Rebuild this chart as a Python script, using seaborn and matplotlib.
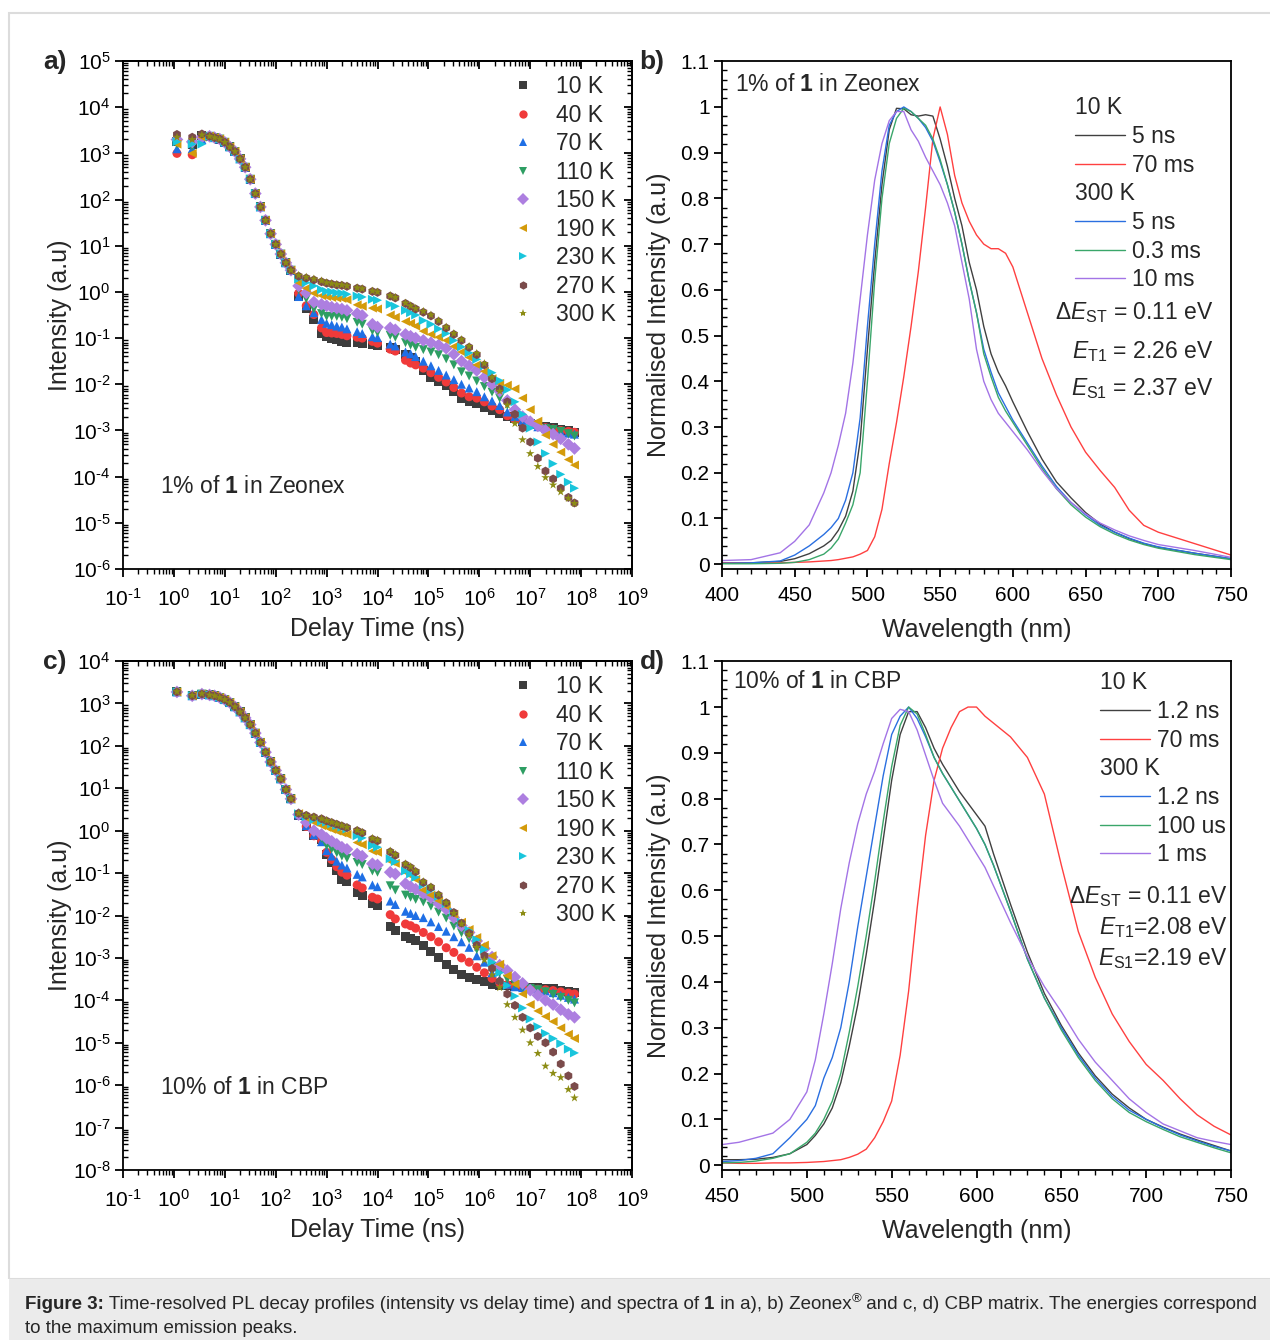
import numpy as np
import pandas as pd
import matplotlib
matplotlib.use("Agg")
import matplotlib.pyplot as plt
from matplotlib import font_manager
from matplotlib.lines import Line2D
from matplotlib.patches import Rectangle
from matplotlib.ticker import LogLocator, NullFormatter, MultipleLocator, FuncFormatter
import seaborn as sns

# ---- decay data (log10 of delay time in ns, log10 of intensity) ----
temps = ["10 K", "40 K", "70 K", "110 K", "150 K", "190 K", "230 K", "270 K", "300 K"]
temp_colors = ["#3d3d3d", "#f03a3a", "#1f6fe5", "#2e9e63", "#ad7fe0", "#d49b0b", "#19c5dc", "#7b4b4b", "#8c8c14"]
temp_markers = ["s", "o", "^", "v", "D", "<", ">", "h", "*"]

log_t_head = [0.06, 0.36, 0.55]
log_t_mid = [0.7, 0.8, 0.9, 1.0, 1.1, 1.2, 1.3, 1.4, 1.5, 1.6, 1.7, 1.8, 1.9, 2.0, 2.1, 2.2, 2.3]
log_t_tail = [2.45, 2.6, 2.75, 2.9, 3.0, 3.1, 3.2, 3.3, 3.4, 3.6, 3.7, 3.9, 4.0, 4.25, 4.35,
              4.55, 4.65, 4.75, 4.9, 5.05, 5.2, 5.35, 5.5, 5.65, 5.8, 5.95, 6.1, 6.25, 6.4,
              6.55, 6.7, 6.85, 7.0, 7.15, 7.3, 7.45, 7.6, 7.75, 7.87]

# panel a: 1% in Zeonex
a_mid = [3.37, 3.34, 3.31, 3.24, 3.14, 3.04, 2.88, 2.7, 2.44, 2.13, 1.84, 1.55, 1.26, 1.03, 0.82, 0.63, 0.47]
a_10K = [3.25, 3.2, 3.38] + a_mid + [
    -0.1, -0.35, -0.6, -0.9, -0.96, -1.0, -1.04, -1.07, -1.09, -1.1, -1.12, -1.13, -1.15, -1.2, -1.25,
    -1.35, -1.42, -1.5, -1.7, -1.85, -1.95, -2.02, -2.15, -2.31, -2.37, -2.42, -2.5, -2.56, -2.63,
    -2.7, -2.75, -2.8, -2.85, -2.88, -2.91, -2.94, -2.98, -3.01, -3.04]
a_40K = [3.0, 2.97, 3.35] + a_mid + [
    -0.03, -0.3, -0.49, -0.78, -0.88, -0.89, -0.9, -0.92, -0.95, -0.98, -1.0, -1.07, -1.11, -1.24, -1.28,
    -1.48, -1.54, -1.58, -1.65, -1.75, -1.85, -1.95, -2.07, -2.19, -2.27, -2.3, -2.38, -2.47, -2.55,
    -2.68, -2.76, -2.82, -2.86, -2.9, -2.94, -2.97, -3.0, -3.02, -3.04]
a_70K = [3.1, 3.1, 3.3] + a_mid + [
    -0.1, -0.3, -0.45, -0.6, -0.68, -0.71, -0.74, -0.76, -0.8, -0.86, -0.9, -0.97, -0.99, -1.13, -1.17,
    -1.3, -1.34, -1.4, -1.5, -1.6, -1.7, -1.8, -1.9, -2.0, -2.08, -2.16, -2.27, -2.36, -2.46,
    -2.6, -2.7, -2.78, -2.85, -2.92, -2.96, -3.0, -3.03, -3.06, -3.08]
a_110K = [3.2, 3.15, 3.35] + a_mid + [
    0.05, -0.15, -0.37, -0.47, -0.53, -0.53, -0.53, -0.55, -0.58, -0.66, -0.7, -0.84, -0.88, -0.94, -0.98,
    -1.1, -1.15, -1.2, -1.25, -1.3, -1.36, -1.45, -1.58, -1.73, -1.82, -1.93, -2.05, -2.17, -2.3,
    -2.45, -2.62, -2.75, -2.85, -2.92, -2.96, -2.98, -3.02, -3.07, -3.12]
a_150K = [3.3, 3.25, 3.35] + a_mid + [
    0.13, -0.02, -0.22, -0.27, -0.3, -0.33, -0.35, -0.37, -0.4, -0.47, -0.51, -0.7, -0.76, -0.78, -0.82,
    -0.92, -0.96, -1.0, -1.05, -1.1, -1.15, -1.22, -1.35, -1.5, -1.6, -1.7, -1.85, -2.0, -2.15,
    -2.35, -2.55, -2.7, -2.81, -2.9, -3.0, -3.08, -3.18, -3.3, -3.39]
a_190K = [3.2, 3.0, 3.35] + a_mid + [
    0.2, 0.08, -0.03, -0.08, -0.1, -0.12, -0.13, -0.14, -0.17, -0.28, -0.31, -0.35, -0.37, -0.5, -0.55,
    -0.64, -0.68, -0.74, -0.85, -0.92, -0.98, -1.05, -1.18, -1.3, -1.42, -1.58, -1.72, -1.88, -1.98,
    -2.02, -2.1, -2.3, -2.55, -2.8, -3.1, -3.3, -3.47, -3.63, -3.75]
a_230K = [3.25, 3.2, 3.2] + a_mid + [
    0.28, 0.2, 0.13, 0.05, 0.01, 0.0, -0.02, -0.03, -0.05, -0.09, -0.11, -0.16, -0.18, -0.27, -0.31,
    -0.4, -0.45, -0.5, -0.62, -0.7, -0.8, -0.9, -1.05, -1.19, -1.32, -1.46, -1.6, -1.75, -1.92,
    -2.12, -2.38, -2.65, -2.95, -3.25, -3.5, -3.72, -3.95, -4.12, -4.25]
a_270K = [3.41, 3.35, 3.42] + a_mid + [
    0.34, 0.3, 0.26, 0.22, 0.19, 0.17, 0.15, 0.14, 0.12, 0.08, 0.06, 0.01, -0.01, -0.09, -0.13,
    -0.25, -0.31, -0.37, -0.44, -0.52, -0.64, -0.78, -0.92, -1.05, -1.2, -1.36, -1.58, -1.88, -2.1,
    -2.38, -2.65, -2.95, -3.25, -3.6, -3.88, -4.05, -4.25, -4.45, -4.57]
a_300K = [3.35, 3.3, 3.4] + a_mid + [
    0.36, 0.32, 0.28, 0.24, 0.2, 0.18, 0.16, 0.15, 0.13, 0.09, 0.07, 0.02, 0.0, -0.08, -0.12,
    -0.24, -0.3, -0.36, -0.42, -0.5, -0.62, -0.76, -0.9, -1.03, -1.18, -1.33, -1.55, -1.85, -2.15,
    -2.45, -2.85, -3.2, -3.5, -3.78, -4.02, -4.18, -4.33, -4.47, -4.58]

# panel c: 10% in CBP
c_mid = [3.2, 3.18, 3.14, 3.09, 3.02, 2.92, 2.8, 2.66, 2.5, 2.3, 2.08, 1.85, 1.62, 1.42, 1.22, 0.97, 0.75]
c_10K = [3.27, 3.18, 3.22] + c_mid + [
    0.36, 0.1, -0.12, -0.2, -0.56, -0.75, -0.95, -1.15, -1.2, -1.45, -1.52, -1.72, -1.76, -2.25, -2.35,
    -2.5, -2.54, -2.6, -2.7, -2.85, -3.0, -3.15, -3.28, -3.38, -3.45, -3.5, -3.56, -3.62, -3.65,
    -3.66, -3.67, -3.68, -3.69, -3.7, -3.71, -3.73, -3.76, -3.79, -3.81]
c_40K = [3.27, 3.18, 3.22] + c_mid + [
    0.37, 0.1, -0.12, -0.22, -0.51, -0.68, -0.85, -0.98, -1.05, -1.28, -1.35, -1.57, -1.61, -1.98, -2.08,
    -2.2, -2.24, -2.3, -2.4, -2.5, -2.62, -2.76, -2.87, -3.0, -3.1, -3.22, -3.35, -3.48, -3.58,
    -3.63, -3.66, -3.69, -3.72, -3.74, -3.75, -3.77, -3.8, -3.83, -3.85]
c_70K = [3.27, 3.18, 3.22] + c_mid + [
    0.37, 0.12, -0.1, -0.26, -0.47, -0.6, -0.72, -0.81, -0.88, -1.03, -1.09, -1.28, -1.32, -1.66, -1.74,
    -1.9, -1.95, -2.0, -2.05, -2.15, -2.26, -2.37, -2.5, -2.62, -2.75, -2.95, -3.1, -3.35, -3.5,
    -3.62, -3.68, -3.7, -3.72, -3.75, -3.78, -3.82, -3.88, -3.93, -3.97]
c_110K = [3.27, 3.18, 3.22] + c_mid + [
    0.38, 0.15, -0.05, -0.18, -0.35, -0.43, -0.52, -0.6, -0.65, -0.75, -0.8, -0.95, -0.98, -1.3, -1.4,
    -1.52, -1.57, -1.62, -1.68, -1.78, -1.92, -2.06, -2.25, -2.41, -2.55, -2.8, -3.0, -3.2, -3.35,
    -3.5, -3.62, -3.68, -3.72, -3.75, -3.8, -3.86, -3.93, -4.0, -4.06]
c_150K = [3.27, 3.18, 3.22] + c_mid + [
    0.38, 0.2, 0.0, -0.09, -0.18, -0.25, -0.32, -0.39, -0.44, -0.55, -0.6, -0.78, -0.81, -0.98, -1.02,
    -1.25, -1.32, -1.38, -1.48, -1.58, -1.72, -1.85, -2.05, -2.24, -2.4, -2.6, -2.78, -2.98, -3.17,
    -3.3, -3.45, -3.6, -3.76, -3.88, -4.0, -4.1, -4.22, -4.33, -4.4]
c_190K = [3.27, 3.18, 3.22] + c_mid + [
    0.4, 0.3, 0.2, 0.12, 0.08, 0.03, -0.01, -0.05, -0.09, -0.28, -0.33, -0.48, -0.51, -0.72, -0.77,
    -0.98, -1.06, -1.15, -1.4, -1.52, -1.65, -1.78, -1.97, -2.16, -2.33, -2.52, -2.7, -2.95, -3.15,
    -3.42, -3.62, -3.85, -4.1, -4.25, -4.38, -4.5, -4.65, -4.8, -4.9]
c_230K = [3.27, 3.18, 3.22] + c_mid + [
    0.4, 0.33, 0.26, 0.22, 0.2, 0.16, 0.12, 0.08, 0.04, -0.12, -0.17, -0.35, -0.39, -0.66, -0.73,
    -0.95, -1.02, -1.1, -1.28, -1.4, -1.55, -1.72, -1.92, -2.16, -2.35, -2.57, -2.8, -3.1, -3.35,
    -3.65, -3.9, -4.18, -4.44, -4.62, -4.78, -4.9, -5.02, -5.15, -5.24]
c_270K = [3.27, 3.18, 3.22] + c_mid + [
    0.41, 0.36, 0.32, 0.28, 0.23, 0.19, 0.15, 0.11, 0.07, 0.0, -0.05, -0.2, -0.24, -0.5, -0.58,
    -0.8, -0.87, -0.97, -1.22, -1.34, -1.52, -1.7, -1.93, -2.18, -2.42, -2.7, -2.95, -3.25, -3.55,
    -3.85, -4.12, -4.4, -4.65, -4.85, -5.0, -5.22, -5.5, -5.78, -6.03]
c_300K = [3.28, 3.19, 3.23] + c_mid + [
    0.41, 0.36, 0.32, 0.28, 0.24, 0.2, 0.16, 0.12, 0.08, 0.01, -0.04, -0.18, -0.22, -0.48, -0.56,
    -0.78, -0.85, -0.95, -1.2, -1.32, -1.5, -1.7, -1.95, -2.2, -2.45, -2.75, -3.05, -3.4, -3.7,
    -4.1, -4.4, -4.7, -5.0, -5.25, -5.55, -5.72, -5.82, -6.1, -6.3]

# ---- spectra ----
spec_colors = ["#404040", "#ff4040", "#2a6fe0", "#3aa66a", "#a374e6"]

wl_b = [400, 420, 440, 450, 460, 470, 475, 480, 485, 490, 495, 500, 505, 510, 515, 520, 525, 530,
        535, 540, 545, 550, 555, 560, 565, 570, 575, 580, 585, 590, 595, 600, 610, 620, 630, 640,
        650, 660, 670, 680, 690, 700, 725, 750]
b_10K_5ns = [0.003, 0.003, 0.006, 0.012, 0.023, 0.04, 0.052, 0.074, 0.105, 0.16, 0.27, 0.47, 0.66, 0.83,
             0.95, 0.997, 0.996, 0.983, 0.98, 0.983, 0.98, 0.93, 0.87, 0.8, 0.74, 0.66, 0.6, 0.52, 0.46,
             0.42, 0.39, 0.355, 0.29, 0.23, 0.18, 0.145, 0.113, 0.088, 0.07, 0.056, 0.045, 0.037, 0.024, 0.012]
b_10K_70ms = [0.003, 0.003, 0.003, 0.004, 0.005, 0.007, 0.008, 0.01, 0.013, 0.016, 0.022, 0.03, 0.06, 0.12,
              0.22, 0.31, 0.41, 0.52, 0.64, 0.78, 0.93, 1.0, 0.94, 0.85, 0.79, 0.75, 0.72, 0.7, 0.69,
              0.69, 0.68, 0.65, 0.55, 0.45, 0.37, 0.3, 0.245, 0.205, 0.168, 0.118, 0.085, 0.07, 0.045, 0.02]
b_300K_5ns = [0.002, 0.003, 0.007, 0.02, 0.04, 0.065, 0.08, 0.1, 0.14, 0.2, 0.32, 0.52, 0.7, 0.86, 0.96,
              0.99, 1.0, 0.99, 0.975, 0.955, 0.925, 0.88, 0.83, 0.77, 0.7, 0.62, 0.55, 0.47, 0.42, 0.375,
              0.345, 0.315, 0.265, 0.215, 0.17, 0.135, 0.108, 0.085, 0.07, 0.057, 0.046, 0.038, 0.024, 0.012]
b_300K_03ms = [0.001, 0.001, 0.002, 0.004, 0.01, 0.022, 0.035, 0.055, 0.09, 0.13, 0.2, 0.4, 0.62, 0.8, 0.92,
               0.975, 0.997, 0.99, 0.975, 0.96, 0.93, 0.885, 0.83, 0.77, 0.7, 0.62, 0.55, 0.46, 0.41, 0.365,
               0.335, 0.31, 0.26, 0.21, 0.165, 0.13, 0.103, 0.082, 0.066, 0.053, 0.043, 0.035, 0.021, 0.01]
b_300K_10ms = [0.008, 0.01, 0.025, 0.05, 0.086, 0.156, 0.2, 0.26, 0.33, 0.44, 0.58, 0.72, 0.84, 0.92, 0.97,
               0.99, 0.99, 0.95, 0.925, 0.89, 0.86, 0.83, 0.79, 0.74, 0.66, 0.58, 0.47, 0.4, 0.36, 0.33,
               0.31, 0.29, 0.25, 0.205, 0.165, 0.135, 0.11, 0.09, 0.075, 0.062, 0.052, 0.043, 0.03, 0.015]
b_labels = ["5 ns", "70 ms", "5 ns", "0.3 ms", "10 ms"]

wl_d = [450, 460, 470, 480, 490, 500, 505, 510, 515, 520, 525, 530, 535, 540, 545, 550, 555, 560, 565,
        570, 575, 580, 585, 590, 595, 600, 605, 610, 620, 630, 640, 650, 660, 670, 680, 690, 700, 710,
        720, 730, 740, 750]
d_10K_12ns = [0.012, 0.012, 0.013, 0.017, 0.025, 0.045, 0.065, 0.09, 0.125, 0.18, 0.26, 0.35, 0.46, 0.58,
              0.71, 0.84, 0.94, 0.99, 0.99, 0.955, 0.91, 0.875, 0.845, 0.815, 0.79, 0.765, 0.74, 0.68,
              0.57, 0.465, 0.375, 0.305, 0.245, 0.195, 0.155, 0.125, 0.1, 0.083, 0.068, 0.055, 0.043, 0.031]
d_10K_70ms = [0.005, 0.004, 0.004, 0.005, 0.005, 0.006, 0.007, 0.008, 0.01, 0.012, 0.017, 0.024, 0.035, 0.06,
              0.095, 0.14, 0.24, 0.38, 0.56, 0.72, 0.84, 0.91, 0.955, 0.99, 1.0, 1.0, 0.98, 0.965,
              0.935, 0.89, 0.81, 0.655, 0.51, 0.41, 0.33, 0.27, 0.22, 0.185, 0.145, 0.11, 0.085, 0.066]
d_300K_12ns = [0.008, 0.01, 0.015, 0.025, 0.06, 0.1, 0.13, 0.19, 0.235, 0.3, 0.4, 0.52, 0.63, 0.74, 0.85,
               0.94, 0.98, 1.0, 0.975, 0.935, 0.89, 0.855, 0.825, 0.795, 0.765, 0.735, 0.7, 0.655,
               0.555, 0.45, 0.365, 0.3, 0.24, 0.19, 0.15, 0.12, 0.1, 0.082, 0.066, 0.053, 0.041, 0.031]
d_300K_100us = [0.005, 0.006, 0.009, 0.015, 0.025, 0.05, 0.07, 0.1, 0.14, 0.2, 0.29, 0.39, 0.5, 0.62, 0.75,
                0.87, 0.96, 1.0, 0.985, 0.94, 0.89, 0.855, 0.825, 0.795, 0.765, 0.735, 0.7, 0.655,
                0.555, 0.45, 0.365, 0.295, 0.235, 0.185, 0.145, 0.115, 0.095, 0.078, 0.062, 0.05, 0.038, 0.027]
d_300K_1ms = [0.045, 0.05, 0.06, 0.07, 0.1, 0.16, 0.23, 0.33, 0.44, 0.56, 0.66, 0.745, 0.81, 0.86, 0.92,
              0.975, 0.995, 0.99, 0.95, 0.895, 0.84, 0.79, 0.765, 0.74, 0.71, 0.68, 0.65, 0.61,
              0.53, 0.455, 0.39, 0.335, 0.275, 0.225, 0.185, 0.145, 0.115, 0.09, 0.075, 0.06, 0.052, 0.045]
d_labels = ["1.2 ns", "70 ms", "1.2 ns", "100 us", "1 ms"]

W, H = 1270, 1340
FS_TICK = 15
FS_LABEL = 18
FS_TEXT = 16.5


def decay_frame(series):
    log_t = np.array(log_t_head + log_t_mid + log_t_tail)
    parts = []
    for label, log_i in zip(temps, series):
        assert len(log_i) == len(log_t), label
        parts.append(pd.DataFrame({"t": 10.0 ** log_t, "I": 10.0 ** np.array(log_i), "T": label}))
    return pd.concat(parts, ignore_index=True)


def spectra_frame(wl, curves):
    parts = []
    for i, vals in enumerate(curves):
        assert len(vals) == len(wl), i
        parts.append(pd.DataFrame({"wl": wl, "I": vals, "curve": f"c{i}"}))
    return pd.concat(parts, ignore_index=True)


def add_axes_px(fig, left, top, right, bottom):
    return fig.add_axes([left / W, 1 - bottom / H, (right - left) / W, (bottom - top) / H])


def pow10_label(v, pos):
    # short hyphen in the exponent, like the original Origin labels
    e = int(round(np.log10(v)))
    return r"$\mathdefault{10^{\text{%d}}}$" % e


def draw_decay(ax, series, ylo, yhi, note, legend_y):
    df = decay_frame(series)
    sns.scatterplot(data=df, x="t", y="I", hue="T", style="T", hue_order=temps, style_order=temps,
                    palette=temp_colors, markers=temp_markers, s=42, linewidth=0, legend=False, ax=ax)
    ax.set_xscale("log")
    ax.set_yscale("log")
    ax.set_xlim(1e-1, 1e9)
    ax.set_ylim(10.0 ** ylo, 10.0 ** yhi)
    for axis in (ax.xaxis, ax.yaxis):
        axis.set_major_locator(LogLocator(base=10, numticks=30))
        axis.set_minor_locator(LogLocator(base=10, subs=np.arange(2, 10), numticks=30))
        axis.set_major_formatter(FuncFormatter(pow10_label))
        axis.set_minor_formatter(NullFormatter())
    ax.tick_params(which="major", length=6, width=1.3, labelsize=FS_TICK)
    ax.tick_params(which="minor", length=3.5, width=1.0)
    ax.tick_params(axis="x", which="both", direction="out", pad=7.5)
    ax.tick_params(axis="y", which="major", direction="out", pad=3)
    ax.tick_params(axis="y", which="minor", direction="in")
    # mirrored ticks on top and right, pointing inwards
    sx = ax.secondary_xaxis("top")
    sy = ax.secondary_yaxis("right")
    for sec, axis in ((sx, sx.xaxis), (sy, sy.yaxis)):
        axis.set_major_locator(LogLocator(base=10, numticks=30))
        axis.set_minor_locator(LogLocator(base=10, subs=np.arange(2, 10), numticks=30))
        sec.tick_params(which="major", direction="in", length=6, width=1.3, labeltop=False, labelright=False)
        sec.tick_params(which="minor", direction="in", length=3.5, width=1.0)
        for sp in sec.spines.values():
            sp.set_linewidth(1.3)
    ax.set_xlabel("Delay Time (ns)", fontsize=FS_LABEL)
    ax.set_ylabel("Intensity (a.u)", fontsize=FS_LABEL)
    ax.xaxis.set_label_coords(0.5, -0.094)
    ax.yaxis.set_label_coords(-0.1, 0.5)

    handles = [Line2D([], [], linestyle="", marker=m, color=c, markersize=6, markeredgewidth=0)
               for m, c in zip(temp_markers, temp_colors)]
    ax.legend(handles, temps, loc="upper left", bbox_to_anchor=(0.768, legend_y), frameon=False,
              fontsize=FS_TEXT, handlelength=0.8, handletextpad=1.05, labelspacing=0.24,
              borderpad=0, borderaxespad=0)
    ax.text(0.073, 0.163, note, transform=ax.transAxes, fontsize=FS_TEXT, va="center", ha="left")


def draw_spectra(ax, wl, curves, labels, xlo, note, note_xy, leg_x, leg_y1, leg_y2, energies, e_x, e_ys):
    df = spectra_frame(wl, curves)
    sns.lineplot(data=df, x="wl", y="I", hue="curve", palette=spec_colors, linewidth=1.0,
                 estimator=None, sort=False, legend=False, ax=ax)
    ax.set_xlim(xlo, 750)
    ax.set_ylim(-0.0105, 1.1005)
    ax.xaxis.set_major_locator(MultipleLocator(50))
    ax.xaxis.set_minor_locator(MultipleLocator(10))
    ax.yaxis.set_major_locator(MultipleLocator(0.1))
    ax.yaxis.set_minor_locator(MultipleLocator(0.02))
    ax.yaxis.set_major_formatter(FuncFormatter(lambda v, p: f"{round(v, 1):g}"))
    ax.tick_params(which="major", length=6, width=1.3, labelsize=FS_TICK, top=False, right=False)
    ax.tick_params(which="minor", length=3.5, width=1.0, top=False, right=False)
    ax.tick_params(axis="x", which="both", direction="out", pad=6)
    ax.tick_params(axis="y", which="major", direction="out", pad=3)
    ax.tick_params(axis="y", which="minor", direction="in")
    ax.set_xlabel("Wavelength (nm)", fontsize=FS_LABEL)
    ax.set_ylabel("Normalised Intensity (a.u)", fontsize=FS_LABEL)
    ax.xaxis.set_label_coords(0.5, -0.096)
    ax.yaxis.set_label_coords(-0.1, 0.5)

    lines = ax.get_lines()[:5]
    kw = dict(loc="upper left", frameon=False, fontsize=FS_TEXT, title_fontsize=FS_TEXT, handlelength=2.2,
              handletextpad=0.3, labelspacing=0.25, borderpad=0, borderaxespad=0, alignment="left")
    leg1 = ax.legend(lines[:2], labels[:2], title="10 K", bbox_to_anchor=(leg_x, leg_y1), **kw)
    ax.add_artist(leg1)
    ax.legend(lines[2:], labels[2:], title="300 K", bbox_to_anchor=(leg_x, leg_y2), **kw)

    ax.text(note_xy[0], note_xy[1], note, transform=ax.transAxes, fontsize=FS_TEXT, va="center", ha="left")
    for txt, y in zip(energies, e_ys):
        ax.text(e_x, y, txt, transform=ax.transAxes, fontsize=FS_TEXT, va="center", ha="right")


def caption_line(cap_ax, x, y, pieces, family, size):
    # chain text pieces so that bold words and the superscript sit inline with the normal text
    first = None
    prev = None
    for txt, kind in pieces:
        if prev is None:
            prev = cap_ax.text(x, y, txt, transform=cap_ax.transAxes, fontsize=size, family=family,
                               fontweight=kind, va="bottom", ha="left")
            first = prev
        elif kind == "sup":
            prev = cap_ax.annotate(txt, xy=(1, 0.45), xycoords=prev, fontsize=size * 0.7, family=family,
                                   va="bottom", ha="left")
        else:
            # x follows the previous piece, y stays on the line's own baseline
            prev = cap_ax.annotate(txt, xy=(1, 0), xycoords=(prev, first), fontsize=size, family=family,
                                   fontweight=kind, va="bottom", ha="left")
    return prev


def main():
    sns.set_style("ticks")
    plt.rcParams["font.family"] = ["Liberation Sans", "DejaVu Sans"]
    plt.rcParams["mathtext.fontset"] = "custom"
    plt.rcParams["mathtext.rm"] = "Liberation Sans"
    plt.rcParams["mathtext.it"] = "Liberation Sans:italic"
    plt.rcParams["mathtext.bf"] = "Liberation Sans:bold"
    plt.rcParams["axes.linewidth"] = 1.3
    plt.rcParams["axes.edgecolor"] = "black"
    plt.rcParams["xtick.color"] = "black"
    plt.rcParams["ytick.color"] = "black"

    installed = {f.name for f in font_manager.fontManager.ttflist}
    caption_family = "Liberation Sans Narrow" if "Liberation Sans Narrow" in installed else "Liberation Sans"

    fig = plt.figure(figsize=(W / 100, H / 100), dpi=100)
    ax_a = add_axes_px(fig, 123, 61, 632, 569)
    ax_b = add_axes_px(fig, 722, 61, 1231, 569)
    ax_c = add_axes_px(fig, 123, 661, 632, 1170)
    ax_d = add_axes_px(fig, 722, 661, 1231, 1170)

    draw_decay(ax_a, [a_10K, a_40K, a_70K, a_110K, a_150K, a_190K, a_230K, a_270K, a_300K],
               -6, 5, r"1% of $\mathbf{1}$ in Zeonex", 0.972)
    draw_decay(ax_c, [c_10K, c_40K, c_70K, c_110K, c_150K, c_190K, c_230K, c_270K, c_300K],
               -8, 4, r"10% of $\mathbf{1}$ in CBP", 0.972)

    draw_spectra(ax_b, wl_b, [b_10K_5ns, b_10K_70ms, b_300K_5ns, b_300K_03ms, b_300K_10ms], b_labels, 400,
                 r"1% of $\mathbf{1}$ in Zeonex", (0.0255, 0.954), 0.6935, 0.9306, 0.7616,
                 [r"$\Delta E_{\mathrm{ST}}$ = 0.11 eV", r"$E_{\mathrm{T1}}$ = 2.26 eV",
                  r"$E_{\mathrm{S1}}$ = 2.37 eV"], 0.965, [0.504, 0.428, 0.355])
    draw_spectra(ax_d, wl_d, [d_10K_12ns, d_10K_70ms, d_300K_12ns, d_300K_100us, d_300K_1ms], d_labels, 450,
                 r"10% of $\mathbf{1}$ in CBP", (0.0216, 0.96), 0.7426, 0.980, 0.811,
                 [r"$\Delta E_{\mathrm{ST}}$ = 0.11 eV", r"$E_{\mathrm{T1}}$=2.08 eV",
                  r"$E_{\mathrm{S1}}$=2.19 eV"], 0.994, [0.538, 0.477, 0.416])

    for lab, (x, y) in zip(["a)", "b)", "c)", "d)"], [(55, 62), (652, 62), (55, 662), (652, 662)]):
        fig.text(x / W, 1 - y / H, lab, fontsize=19, fontweight="bold", ha="center", va="center")

    # outer frame and caption box
    fig.add_artist(Rectangle((9 / W, 61 / H), 1.0, (1279 - 13) / H, transform=fig.transFigure,
                             facecolor="none", edgecolor="#dcdcdc", linewidth=1.5, zorder=-5))
    fig.add_artist(Rectangle((9 / W, 0), 1.0, 61 / H, transform=fig.transFigure,
                             facecolor="#ebebeb", edgecolor="none", zorder=-5))

    cap_ax = fig.add_axes([0, 0, 1, 1], zorder=-1)
    cap_ax.axis("off")
    cap_size = 13.5
    caption_line(cap_ax, 25 / W, 1 - 1313 / H, [
        ("Figure 3:", "bold"),
        (" Time-resolved PL decay profiles (intensity vs delay time) and spectra of ", "normal"),
        ("1", "bold"),
        (" in a), b) Zeonex", "normal"),
        ("\u00ae", "sup"),
        (" and c, d) CBP matrix. The energies correspond", "normal"),
    ], caption_family, cap_size)
    cap_ax.text(25 / W, 1 - 1337 / H, "to the maximum emission peaks.", transform=cap_ax.transAxes,
                fontsize=cap_size, family=caption_family, va="bottom", ha="left")

    fig.savefig("out.png", dpi=100, facecolor="white")
    print("saved out.png", caption_family)


if __name__ == "__main__":
    main()
